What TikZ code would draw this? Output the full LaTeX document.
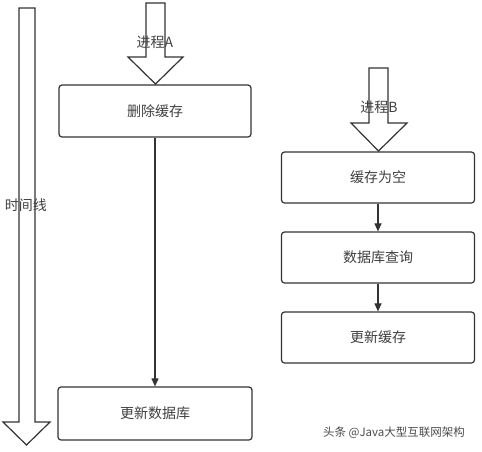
\documentclass[tikz,border=0pt]{standalone}
\usepackage{fontspec}
\setmainfont{Noto Sans CJK SC}
\usetikzlibrary{arrows.meta}
\begin{document}
\begin{tikzpicture}[x=1pt,y=-1pt,
  box/.style={draw=black!80,line width=1.2pt,rounded corners=3pt,fill=white},
  lbl/.style={text=black!75,font=\fontsize{14}{16}\selectfont},
  bigarrow/.style={draw=black!80,line width=1.2pt,fill=white,line join=miter},
  conn/.style={draw=black!80,line width=1.1pt,-{Triangle[length=8pt,width=7pt]}}]
\useasboundingbox[fill=white] (0,0) rectangle (482,451);
% time line arrow
\draw[bigarrow] (19,8) -- (35,8) -- (35,422) -- (50,422) -- (26.5,445) -- (3,422) -- (19,422) -- cycle;
\node[lbl] (tl) at (26,205) {时间线};
% process A arrow
\draw[bigarrow] (146,3) -- (165,3) -- (165,57) -- (183,57) -- (155.5,84) -- (128,57) -- (146,57) -- cycle;
\node[lbl] (pa) at (155,42) {进程A};
% process B arrow
\draw[bigarrow] (369,68) -- (388,68) -- (388,123) -- (407,123) -- (378.5,151) -- (351,123) -- (369,123) -- cycle;
\node[lbl] (pb) at (379,107) {进程B};
% boxes
\node[box,minimum width=192pt,minimum height=52pt,lbl] (a1) at (155,111) {删除缓存};
\node[box,minimum width=194pt,minimum height=53pt,lbl] (a2) at (155,413.5) {更新数据库};
\node[box,minimum width=193pt,minimum height=51pt,lbl] (b1) at (378,177.5) {缓存为空};
\node[box,minimum width=193pt,minimum height=51pt,lbl] (b2) at (378,257.5) {数据库查询};
\node[box,minimum width=193pt,minimum height=51pt,lbl] (b3) at (378,337.5) {更新缓存};
\draw[conn] (a1) -- (a2);
\draw[conn] (b1) -- (b2);
\draw[conn] (b2) -- (b3);
\node[text=black!70,font=\fontsize{11.5}{13}\selectfont] (wm) at (394,433) {头条 @Java大型互联网架构};
\end{tikzpicture}
\end{document}
